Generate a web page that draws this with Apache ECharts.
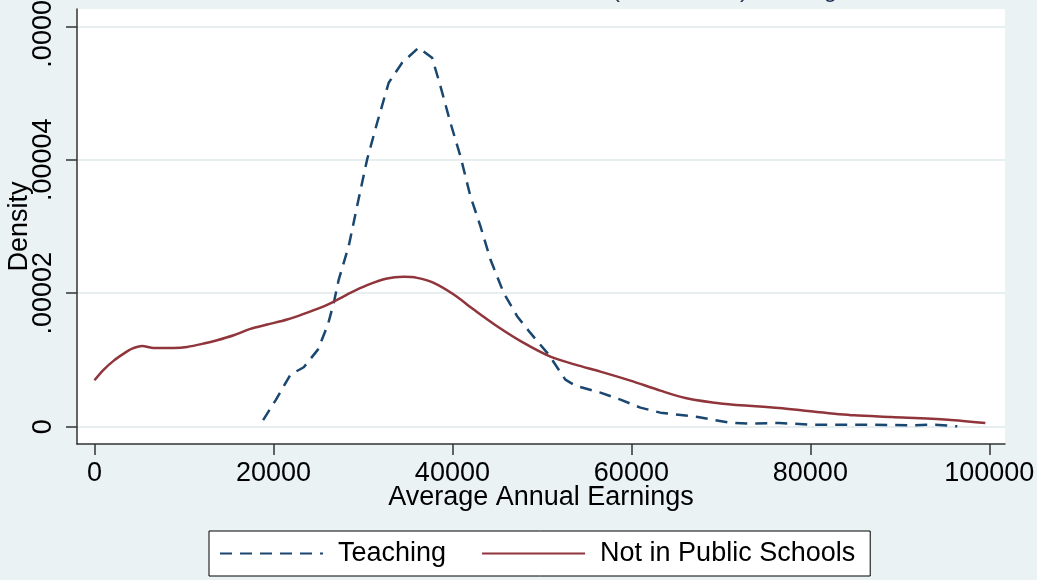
<!DOCTYPE html>
<html>
<head>
<meta charset="utf-8">
<script src="https://cdn.jsdelivr.net/npm/echarts@6/dist/echarts.min.js"></script>
<style>
html,body{margin:0;padding:0;background:#eaf2f3;}
#chart{width:1037px;height:580px;}
</style>
</head>
<body>
<div id="chart"></div>
<script>
// ---- data (density in units of 1e-6) ----
const teachX = [18850, 20290, 21900, 23390, 24970, 26090, 26740, 27300, 28410, 29350, 30470, 31590, 32880, 34380, 36230, 37730, 38660, 39780, 40890, 42010, 43130, 44250, 45730, 47230, 48710, 50760, 52620, 53740, 56540, 58780, 61010, 63240, 67430, 70930, 73010, 76510, 80000, 86980, 91170, 93960, 96420];
const teachY = [0.98, 4.05, 7.8, 8.9, 11.55, 15.3, 18.55, 22.05, 27.05, 33.05, 40.05, 45.55, 51.55, 54.55, 56.8, 55.3, 51.05, 45.55, 40.55, 34.55, 30.05, 25.05, 20.05, 16.55, 14.05, 10.8, 7.05, 6.15, 5.1, 4.05, 2.85, 2.1, 1.45, 0.6, 0.45, 0.55, 0.3, 0.3, 0.2, 0.3, 0.05];
const otherX = [0, 1040, 2160, 3270, 4210, 5330, 6630, 8860, 10360, 12210, 13710, 15560, 17430, 19300, 21530, 23380, 26000, 28230, 30470, 32700, 34560, 36060, 37910, 40150, 42380, 44990, 47970, 50950, 53740, 56540, 59890, 63240, 66030, 70220, 76510, 80000, 84890, 89050, 95360, 99550];
const otherY = [6.95, 8.55, 9.9, 10.95, 11.7, 12.1, 11.8, 11.8, 11.95, 12.45, 12.95, 13.7, 14.65, 15.3, 16.05, 16.9, 18.25, 19.8, 21.2, 22.2, 22.45, 22.3, 21.55, 19.8, 17.55, 15.05, 12.55, 10.5, 9.3, 8.25, 6.9, 5.4, 4.3, 3.45, 2.8, 2.3, 1.7, 1.45, 1.05, 0.55];
const seriesNames = ['Teaching', 'Not in Public Schools'];
const xTickValues = [0, 20000, 40000, 60000, 80000, 100000];
const xTickLabels = ['0', '20000', '40000', '60000', '80000', '100000'];
const yTickValues = [0, 20, 40, 60];
const yTickLabels = ['0', '.00002', '.00004', '.00006'];
const xTitle = 'Average Annual Earnings';
const yTitle = 'Density';
const titlePrefix = 'Kernel Densities of Teacher Salaries ';
const titleRest = '(1999, 2000), Average Salaries';

const FONT = '"Liberation Sans", Arial, sans-serif';
const FS = 27;
const chart = echarts.init(document.getElementById('chart'), null, {renderer: 'canvas'});

const mc = document.createElement('canvas').getContext('2d');
mc.font = '24px "Liberation Sans"';
const prefixW = mc.measureText(titlePrefix).width;

const pairs = (xs, ys) => xs.map((x, i) => [x, ys[i]]);

chart.setOption({
  backgroundColor: '#eaf2f3',
  animation: false,
  textStyle: {fontFamily: FONT},
  graphic: [{
    type: 'text', x: 612 - prefixW, y: -10,
    style: {text: titlePrefix + titleRest, font: '24px ' + FONT, fill: '#1c2c4c', verticalAlign: 'middle', align: 'left'}
  }],
  grid: {left: 77, right: 32, top: 9, bottom: 136, show: true, backgroundColor: '#ffffff', borderWidth: 0,
    containLabel: false, outerBoundsMode: 'none'},
  xAxis: {
    type: 'value', min: -1950, max: 101750,
    name: xTitle, nameLocation: 'middle', nameGap: 40, nameMoveOverlap: false,
    nameTextStyle: {fontSize: FS, color: '#000', fontFamily: FONT},
    axisLine: {show: true, onZero: false, lineStyle: {color: '#333', width: 1.5}},
    axisTick: {show: true, length: 11, customValues: xTickValues, lineStyle: {color: '#333', width: 1.5}},
    axisLabel: {customValues: xTickValues, fontSize: FS, color: '#000', margin: 16, fontFamily: FONT,
      formatter: v => { const i = xTickValues.indexOf(Math.round(v)); return i >= 0 ? xTickLabels[i] : ''; }},
    splitLine: {show: false}
  },
  yAxis: {
    type: 'value', min: -2.6, max: 62.6,
    name: yTitle, nameLocation: 'middle', nameGap: 44, nameRotate: 90, nameMoveOverlap: false,
    nameTextStyle: {fontSize: FS, color: '#000', fontFamily: FONT},
    axisLine: {show: true, onZero: false, lineStyle: {color: '#333', width: 1.5}},
    axisTick: {show: true, length: 11, customValues: yTickValues, lineStyle: {color: '#333', width: 1.5}},
    axisLabel: {customValues: yTickValues, rotate: 90, fontSize: FS, color: '#000', margin: 20, fontFamily: FONT,
      formatter: v => { const i = yTickValues.indexOf(Math.round(v)); return i >= 0 ? yTickLabels[i] : ''; }},
    splitLine: {show: true, lineStyle: {color: '#e6eef0', width: 2}}
  },
  legend: {
    data: seriesNames,
    left: 209, top: 531,
    padding: [9, 15, 9, 10],
    itemWidth: 103, itemHeight: 14, itemGap: 35,
    itemStyle: {opacity: 0},
    backgroundColor: '#ffffff', borderColor: '#000', borderWidth: 1, borderRadius: 0,
    textStyle: {fontSize: FS, color: '#000', fontFamily: FONT, padding: [0, 0, 0, 10]}
  },
  series: [
    {name: seriesNames[0], type: 'line', data: pairs(teachX, teachY), showSymbol: false, symbol: 'none', smooth: false,
      lineStyle: {color: '#1a476f', width: 2.5, type: [12, 8]}, itemStyle: {color: '#1a476f'}},
    {name: seriesNames[1], type: 'line', data: pairs(otherX, otherY), showSymbol: false, symbol: 'none', smooth: 0.3,
      lineStyle: {color: '#90353b', width: 2.5, type: 'solid'}, itemStyle: {color: '#90353b'}}
  ]
});
</script>
</body>
</html>
